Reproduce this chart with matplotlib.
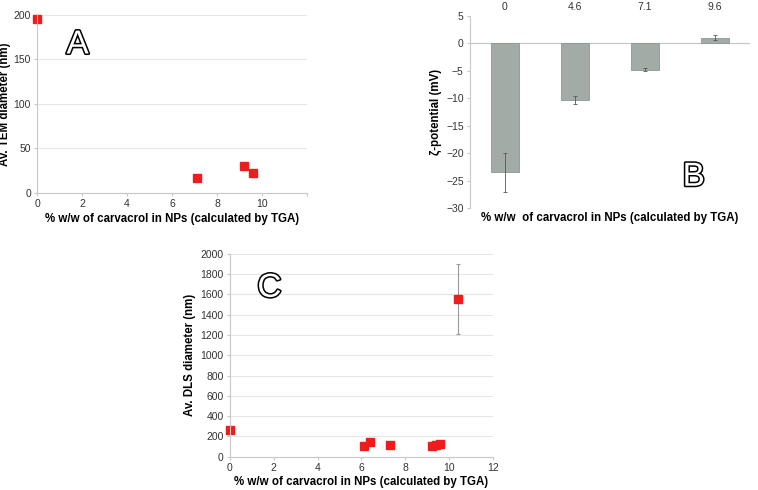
import numpy as np
import matplotlib.pyplot as plt
import matplotlib.patheffects as pe

plt.rcParams['font.family'] = ['Liberation Sans', 'DejaVu Sans']

# panel A - TEM
tem_x = [0, 7.1, 9.2, 9.6]
tem_y = [195, 17, 30, 22]

# panel B - zeta potential
zeta_cats = ["0", "4.6", "7.1", "9.6"]
zeta_val = [-23.5, -10.3, -4.8, 1.0]
zeta_err = [3.5, 0.7, 0.3, 0.5]

# panel C - DLS
dls_x = [0, 6.1, 6.4, 7.3, 9.2, 9.4, 9.6, 10.4]
dls_y = [260, 110, 140, 120, 105, 115, 125, 1550]
dls_err = [0, 0, 25, 0, 0, 0, 0, 345]

xlab = "% w/w of carvacrol in NPs (calculated by TGA)"
spine_c = "#c8c8c8"
grid_c = "#e6e6e6"
tick_kw = dict(labelsize=7.5, colors="#333333", length=2, color=spine_c, pad=2.5)
lab_kw = dict(fontsize=8.3, fontweight="bold")

def letter(ax, x, y, s):
    ax.text(x, y, s, transform=ax.transAxes, fontsize=24, color="white",
            ha="center", va="center",
            path_effects=[pe.withStroke(linewidth=2.2, foreground="black")])

def style_scatter(ax):
    for s in ["top", "right"]:
        ax.spines[s].set_visible(False)
    for s in ["left", "bottom"]:
        ax.spines[s].set_color(spine_c)
    ax.yaxis.grid(True, color=grid_c, lw=0.8)
    ax.set_axisbelow(True)
    ax.tick_params(**tick_kw)
    ax.set_xlim(0, 12)
    ax.set_xticks(range(0, 13, 2))

fig = plt.figure(figsize=(7.58, 4.90), dpi=100)

# A
axA = fig.add_axes([0.049, 0.606, 0.356, 0.364])
axA.plot(tem_x, tem_y, "s", color="#ee1c1c", ms=5.5, clip_on=False)
style_scatter(axA)
axA.set_ylim(0, 200)
axA.set_yticks(range(0, 201, 50))
axA.set_xticklabels(["0", "2", "4", "6", "8", "10", ""])
axA.set_ylabel("Av. TEM diameter (nm)", labelpad=2, **lab_kw)
axA.set_xlabel(xlab, labelpad=3, **lab_kw)
letter(axA, 0.15, 0.83, "A")

# B
axB = fig.add_axes([0.620, 0.5755, 0.369, 0.3925])
pos = np.arange(len(zeta_cats))
axB.bar(pos, zeta_val, width=0.4, color="#a3aba7", edgecolor="#8f9792", lw=0.6,
        yerr=zeta_err, error_kw=dict(ecolor="#555555", elinewidth=0.6, capsize=1.5, capthick=0.6))
axB.set_xlim(-0.5, 3.5)
axB.set_ylim(-30, 5)
axB.set_yticks(range(-30, 6, 5))
axB.axhline(0, color=spine_c, lw=0.9, zorder=0)
for s in ["top", "right", "bottom"]:
    axB.spines[s].set_visible(False)
axB.spines["left"].set_color(spine_c)
axB.xaxis.tick_top()
axB.set_xticks(pos)
axB.set_xticklabels(zeta_cats)
axB.tick_params(axis="x", length=0, pad=3, labelsize=7.5, colors="#333333")
axB.tick_params(axis="y", **tick_kw)
axB.set_ylabel("ζ-potential (mV)", labelpad=3, **lab_kw)
axB.set_xlabel("% w/w  of carvacrol in NPs (calculated by TGA)", labelpad=3, **lab_kw)
axB.xaxis.set_label_position("bottom")
letter(axB, 0.8, 0.16, "B")

# C
axC = fig.add_axes([0.3034, 0.068, 0.347, 0.414])
axC.errorbar(dls_x, dls_y, yerr=dls_err, fmt="s", color="#ee1c1c", ms=5.5,
             ecolor="#999999", elinewidth=0.8, capsize=1.5, capthick=0.8, clip_on=False)
style_scatter(axC)
axC.set_ylim(0, 2000)
axC.set_yticks(range(0, 2001, 200))
axC.set_ylabel("Av. DLS diameter (nm)", labelpad=3, **lab_kw)
axC.set_xlabel(xlab, labelpad=2, **lab_kw)
letter(axC, 0.15, 0.83, "C")

plt.savefig("out.png", dpi=100)
plt.close()
